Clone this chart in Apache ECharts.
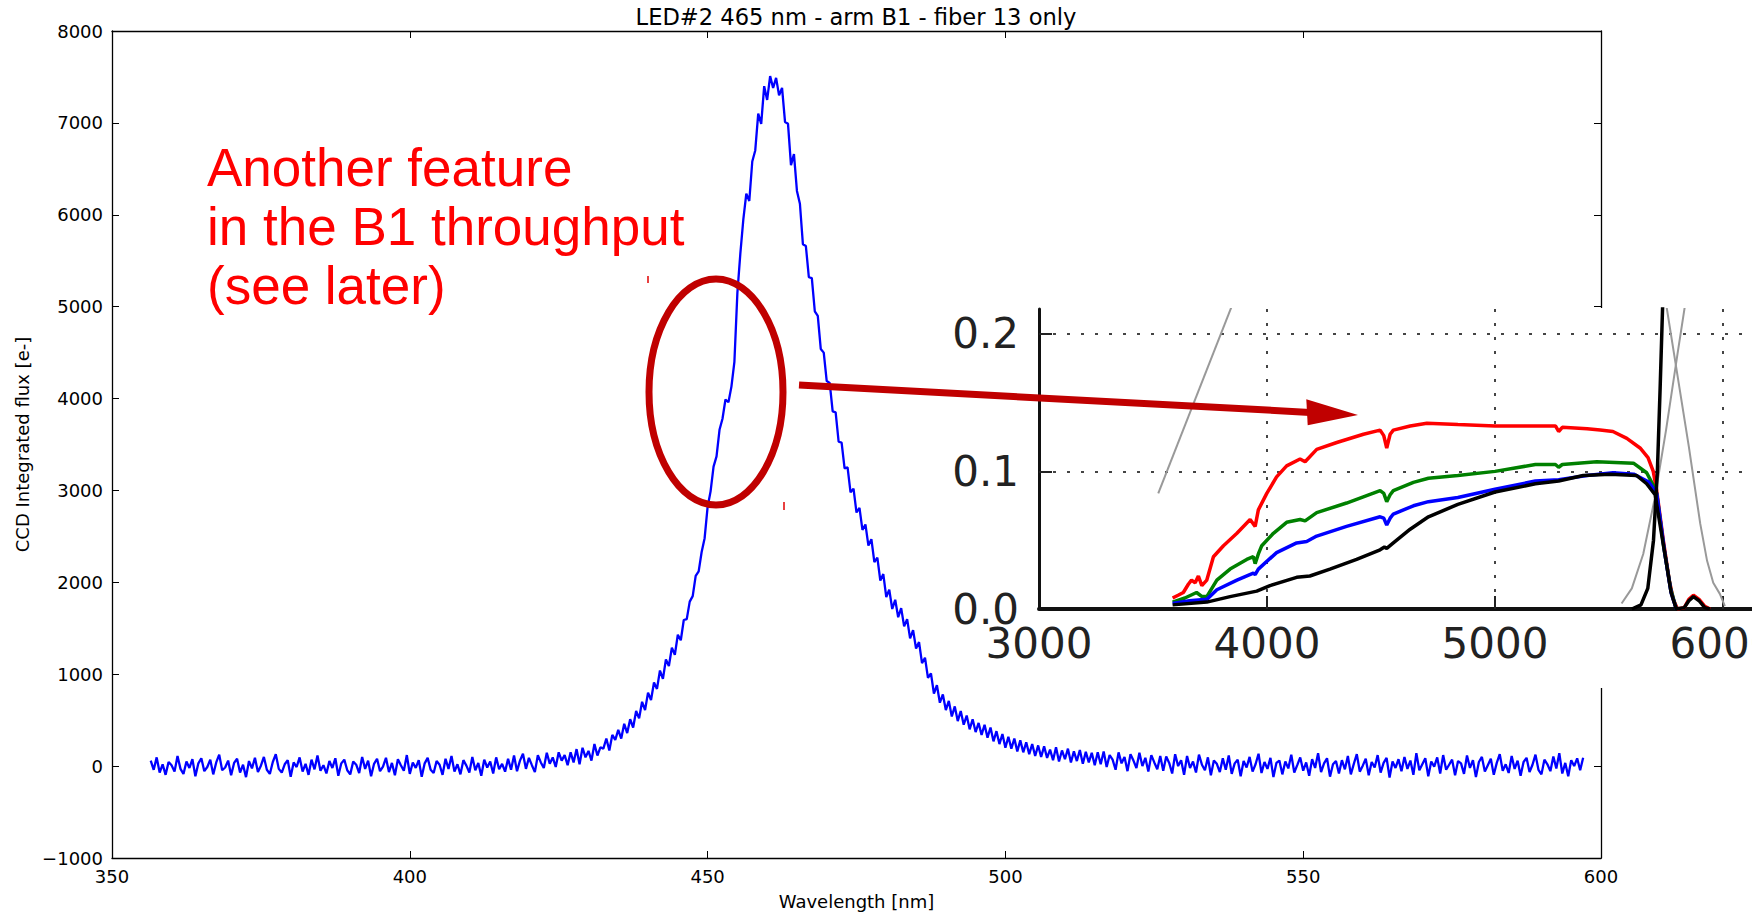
<!DOCTYPE html>
<html>
<head>
<meta charset="utf-8">
<title>LED#2 465 nm - arm B1 - fiber 13 only</title>
<script src="https://cdn.jsdelivr.net/npm/echarts@6.0.0/dist/echarts.min.js"></script>
<style>
  html, body { margin: 0; padding: 0; background: #fff; }
  #main { width: 1752px; height: 913px; }
</style>
</head>
<body>
<div id="main"></div>
<script>
// LED spectrum, one reading every 0.5 nm from 356.5 nm
const waveStart = 356.5
const waveStep = 0.5
const flux = [
  60, -40, 95, -70, 20, -95, 45, 10, -60, 110, -30, -85, 50, -20, 75, -110, 30, 85, -55, -10,
  70, -90, 40, 125, -45, -15, 60, -100, 35, 80, -70, 15, -120, 55, -25, 90, -65, 5, 100, -40,
  -85, 45, 130, -30, -70, 20, 65, -115, 40, -10, 95, -60, 25, -95, 70, -35, 115, -50, 10, -80,
  55, -20, 85, -105, 30, 70, -45, -90, 50, 15, -75, 100, -30, 60, -110, 25, 80, -55, -5, 90,
  -65, 35, -100, 75, 10, -50, 120, -85, 40, -20, 65, -115, 30, 90, -40, -75, 55, 15, -95, 80,
  -30, 110, -60, 20, -90, 65, 5, -70, 100, -45, 35, -105, 70, -15, 50, -80, 95, -35, 25, -60,
  80, -40, 115, -55, 60, 135, -30, 90, 10, -65, 120, 40, -20, 145, 25, 95, -10, 150, 60, 120,
  10, 150, 40, 185, 20, 200, 95, 165, 60, 240, 115, 205, 190, 300, 170, 340, 285, 395, 300, 460,
  360, 510, 420, 600, 520, 700, 610, 800, 720, 910, 840, 1040, 950, 1160, 1090, 1290, 1210, 1430, 1370, 1590,
  1600, 1790, 1850, 2070, 2120, 2330, 2480, 2820, 2990, 3260, 3370, 3660, 3780, 3990, 3960, 4130, 4400, 5150, 5580, 5950,
  6230, 6150, 6580, 6700, 7100, 6990, 7400, 7250, 7510, 7380, 7490, 7300, 7380, 7010, 6990, 6540, 6660, 6260, 6120, 5680,
  5660, 5320, 5310, 4950, 4900, 4540, 4500, 4190, 4170, 3860, 3850, 3530, 3520, 3240, 3250, 2980, 3020, 2760, 2810, 2570,
  2630, 2400, 2470, 2220, 2270, 2020, 2090, 1840, 1920, 1710, 1810, 1620, 1720, 1520, 1600, 1390, 1480, 1280, 1350, 1120,
  1180, 960, 1010, 790, 880, 690, 780, 610, 710, 540, 650, 490, 600, 450, 550, 400, 510, 370, 470, 340,
  450, 310, 420, 270, 380, 240, 350, 200, 320, 190, 300, 160, 280, 150, 260, 130, 240, 110, 225, 100,
  215, 90, 180, 65, 205, 50, 170, 75, 190, 40, 160, 55, 175, 25, 155, 40, 145, 10, 150, 20,
  160, -10, 120, 70, -40, 150, 30, 100, -55, 130, 60, -20, 145, 0, 90, -60, 120, 40, -35, 110,
  -50, 105, 35, -80, 130, 0, 65, -95, 110, -20, 50, -70, 125, 15, -45, 95, -100, 60, 25, -65,
  85, -40, 115, -85, 30, 70, -110, 55, -15, 100, -60, 20, 135, -75, 45, -30, 90, -120, 35, 60,
  -90, 50, -25, 125, -70, 10, 95, -50, 40, -105, 75, -20, 140, -65, 30, 85, -115, 20, 55, -80,
  65, -35, 110, -90, 25, 130, -60, 5, 80, -100, 45, -15, 120, -70, 35, 90, -125, 50, -20, 75,
  -55, 100, -30, 60, -95, 140, -45, 20, 85, -110, 50, -5, 95, -80, 120, -40, 15, 70, -100, 55,
  30, -85, 115, -20, 65, -120, 45, 100, -60, 10, 80, -95, 35, 130, -50, 20, -75, 110, -30, 60,
  -105, 45, 90, -65, 15, 125, -40, -90, 70, 20, -55, 105, -25, 140, -80, 35, -110, 65, 0, 85,
  -45, 90
]

// inset (pasted throughput plot): [wavelength A, throughput]
const redThru = [[3586,0.008],[3610,0.010],[3633,0.012],[3655,0.018],[3669,0.021],[3685,0.019],[3699,0.024],[3714,0.017],
  [3736,0.021],[3765,0.038],[3809,0.046],[3868,0.055],[3926,0.065],[3948,0.060],[3962,0.072],[3999,0.084],[4042,0.096],
  [4086,0.104],[4145,0.109],[4167,0.107],[4218,0.116],[4306,0.121],[4423,0.127],[4496,0.130],[4512,0.126],[4525,0.117],
  [4540,0.127],[4554,0.130],[4628,0.133],[4701,0.135],[4837,0.134],[5000,0.133],[5177,0.133],[5265,0.133],[5279,0.129],
  [5295,0.132],[5404,0.131],[5461,0.130],[5517,0.129],[5578,0.124],[5636,0.117],[5671,0.110],[5694,0.100],[5709,0.086],
  [5738,0.050],[5765,0.020],[5782,0.007],[5800,0],[5830,0.001],[5850,0.007],[5870,0.010],[5895,0.007],[5920,0.002],[5943,0]]
const greenThru = [[3586,0.005],[3640,0.008],[3691,0.012],[3715,0.009],[3736,0.009],[3780,0.021],[3838,0.029],[3911,0.036],
  [3940,0.038],[3948,0.033],[3962,0.040],[3977,0.046],[4028,0.055],[4086,0.063],[4145,0.065],[4167,0.064],[4218,0.070],
  [4349,0.077],[4496,0.086],[4512,0.084],[4525,0.078],[4540,0.083],[4554,0.086],[4642,0.092],[4708,0.095],[4837,0.097],
  [5000,0.100],[5177,0.105],[5265,0.105],[5279,0.103],[5295,0.105],[5446,0.107],[5607,0.106],[5665,0.099],[5700,0.088],
  [5709,0.084],[5740,0.045],[5770,0.015],[5795,0]]
const blueThru = [[3586,0.004],[3660,0.006],[3736,0.007],[3780,0.014],[3868,0.021],[3940,0.026],[3948,0.025],[3962,0.029],
  [4042,0.041],[4130,0.048],[4174,0.049],[4218,0.053],[4349,0.060],[4496,0.067],[4512,0.066],[4525,0.061],[4540,0.066],
  [4554,0.069],[4642,0.075],[4708,0.078],[4837,0.081],[5000,0.087],[5177,0.093],[5279,0.094],[5404,0.097],[5517,0.099],
  [5608,0.098],[5676,0.092],[5709,0.084],[5745,0.040],[5772,0.012],[5795,0]]
const blackThru = [[3586,0.003],[3736,0.005],[3838,0.009],[3955,0.013],[4013,0.017],[4130,0.023],[4188,0.024],[4276,0.029],
  [4393,0.036],[4496,0.043],[4515,0.045],[4525,0.044],[4554,0.048],[4628,0.058],[4708,0.067],[4837,0.076],[5000,0.085],
  [5177,0.091],[5279,0.093],[5387,0.097],[5505,0.098],[5621,0.097],[5665,0.091],[5702,0.083],[5745,0.040],[5772,0.012],
  [5795,0],[5830,0.001],[5850,0.006],[5870,0.009],[5895,0.006],[5920,0.001],[5943,0]]
const blackSpike = [[5600,0],[5640,0.003],[5670,0.015],[5695,0.050],[5712,0.100],[5724,0.160],[5735,0.220],[5740,0.250]]
const grayLeft = [[3523,0.084],[3850,0.222]]
const grayRise = [[5555,0.004],[5600,0.015],[5650,0.040],[5700,0.080],[5750,0.130],[5800,0.185],[5840,0.228]]
const grayFall = [[5750,0.222],[5800,0.170],[5850,0.118],[5900,0.062],[5930,0.035],[5957,0.019],[5986,0.011],[6008,0.002]]

// tick labels
const insetWaveTicks = [3000, 4000, 5000, 6000]
const insetThruTicks = [0, 0.1, 0.2]

const fontMain = 'DejaVu Sans'
const darkRed = '#c00000'
const noteFont = '53px "Liberation Sans"'

const spectrum = flux.map((v, i) => [waveStart + i * waveStep, v])

let myChart = echarts.init(document.getElementById('main'), null, { renderer: 'svg' })

function insetLine(data, color, width, z) {
  return {
    type: 'line', xAxisIndex: 2, yAxisIndex: 2, data: data,
    showSymbol: false, symbol: 'none', clip: true, z: z || 8,
    lineStyle: { color: color, width: width }
  }
}

const mainLine = { show: true, onZero: false, lineStyle: { color: '#000', width: 1.3 } }
const mainTick = { show: true, inside: true, length: 7, lineStyle: { color: '#000', width: 1 } }
const insetGrid = { show: true, showMinLine: false, showMaxLine: false, lineStyle: { color: '#444', width: 2, type: [3, 11] } }

let option = {
  animation: false,
  backgroundColor: '#fff',
  grid: [
    { left: 112, top: 31, right: 151, bottom: 55, outerBoundsMode: 'none' },
    { left: 1039, top: 309, width: 713, height: 300, outerBoundsMode: 'none' }
  ],
  xAxis: [
    {
      gridIndex: 0, type: 'value', min: 350, max: 600, interval: 50, position: 'bottom',
      axisLine: mainLine, axisTick: mainTick,
      axisLabel: { color: '#000', fontSize: 18, fontFamily: fontMain, margin: 9 },
      splitLine: { show: false },
      name: 'Wavelength [nm]', nameLocation: 'middle', nameGap: 43,
      nameTextStyle: { color: '#000', fontSize: 18, fontFamily: fontMain, verticalAlign: 'middle' }
    },
    {
      gridIndex: 0, type: 'value', min: 350, max: 600, interval: 50, position: 'top',
      axisLine: mainLine, axisTick: mainTick, axisLabel: { show: false }, splitLine: { show: false }
    },
    {
      gridIndex: 1, type: 'value', min: 3000, max: 6127, interval: 1000, position: 'bottom', z: 6,
      axisLine: { show: true, onZero: false, lineStyle: { color: '#111', width: 4 } },
      axisTick: { show: false },
      axisLabel: { customValues: insetWaveTicks, color: '#222', fontSize: 42, fontFamily: fontMain, margin: 13,
        formatter: v => String(v) },
      splitLine: insetGrid
    },
    {
      // inset ticks only
      gridIndex: 1, type: 'value', min: 3000, max: 6127, position: 'bottom', z: 6,
      axisLine: { show: false },
      axisTick: { show: true, inside: true, length: 13, customValues: [4000, 5000, 6000], lineStyle: { color: '#222', width: 2 } },
      axisLabel: { show: false }, splitLine: { show: false }
    }
  ],
  yAxis: [
    {
      gridIndex: 0, type: 'value', min: -1000, max: 8000, interval: 1000, position: 'left',
      axisLine: mainLine, axisTick: mainTick,
      axisLabel: { color: '#000', fontSize: 18, fontFamily: fontMain, margin: 9,
        formatter: v => String(v).replace('-', '\u2212') },
      splitLine: { show: false },
      name: 'CCD Integrated flux [e-]', nameLocation: 'middle', nameGap: 90,
      nameTextStyle: { color: '#000', fontSize: 18, fontFamily: fontMain, verticalAlign: 'middle' }
    },
    {
      gridIndex: 0, type: 'value', min: -1000, max: 8000, interval: 1000, position: 'right',
      axisLine: mainLine, axisTick: mainTick, axisLabel: { show: false }, splitLine: { show: false }
    },
    {
      gridIndex: 1, type: 'value', min: 0, max: 0.218, interval: 0.1, position: 'left', z: 6,
      axisLine: { show: true, onZero: false, lineStyle: { color: '#111', width: 3 } },
      axisTick: { show: false },
      axisLabel: { customValues: insetThruTicks, color: '#222', fontSize: 42, fontFamily: fontMain, margin: 20,
        formatter: v => v.toFixed(1) },
      splitLine: insetGrid
    },
    {
      gridIndex: 1, type: 'value', min: 0, max: 0.218, position: 'left', z: 6,
      axisLine: { show: false },
      axisTick: { show: true, inside: true, length: 13, customValues: [0.1, 0.2], lineStyle: { color: '#222', width: 2 } },
      axisLabel: { show: false }, splitLine: { show: false }
    }
  ],
  series: [
    {
      name: 'flux', type: 'line', xAxisIndex: 0, yAxisIndex: 0, data: spectrum,
      showSymbol: false, symbol: 'none', clip: true, z: 2,
      lineStyle: { color: '#0000ff', width: 2.3 }
    },
    insetLine(grayLeft, '#999', 2, 7),
    insetLine(grayRise, '#999', 2, 7),
    insetLine(grayFall, '#999', 2, 7),
    insetLine(redThru, '#ff0000', 3.5),
    insetLine(greenThru, '#008000', 3.5),
    insetLine(blueThru, '#0000ff', 3.5),
    insetLine(blackThru, '#000', 3.5),
    insetLine(blackSpike, '#000', 3.5)
  ],
  graphic: [
    // title
    { type: 'text', x: 856, y: 17, z: 20,
      style: { text: 'LED#2 465 nm - arm B1 - fiber 13 only', font: '22.6px "DejaVu Sans"', fill: '#000',
        align: 'center', verticalAlign: 'middle', textAlign: 'center', textVerticalAlign: 'middle' } },
    // white patch of the pasted inset
    { type: 'rect', shape: { x: 945, y: 308, width: 807, height: 380 }, z: 5,
      style: { fill: '#fff' } },
    // red note
    { type: 'text', x: 207, y: 167, z: 20,
      style: { text: 'Another feature', font: noteFont, fill: '#ff0000', verticalAlign: 'middle', textVerticalAlign: 'middle' } },
    { type: 'text', x: 207, y: 226, z: 20,
      style: { text: 'in the B1 throughput', font: noteFont, fill: '#ff0000', verticalAlign: 'middle', textVerticalAlign: 'middle' } },
    { type: 'text', x: 207, y: 285, z: 20,
      style: { text: '(see later)', font: noteFont, fill: '#ff0000', verticalAlign: 'middle', textVerticalAlign: 'middle' } },
    // ellipse round the kink
    { type: 'ellipse', shape: { cx: 716, cy: 392, rx: 67, ry: 113 }, z: 20,
      style: { fill: 'none', stroke: darkRed, lineWidth: 7 } },
    // arrow to the inset
    { type: 'line', shape: { x1: 799, y1: 385, x2: 1310, y2: 412.4 }, z: 20,
      style: { stroke: darkRed, lineWidth: 7 } },
    { type: 'polygon', shape: { points: [[1306.3, 399.3], [1358, 415], [1307.7, 425.3]] }, z: 20,
      style: { fill: darkRed } },
    // two tiny red marks left over from the drawing
    { type: 'line', shape: { x1: 648, y1: 276, x2: 648, y2: 283 }, z: 20, style: { stroke: '#e00000', lineWidth: 1.5 } },
    { type: 'line', shape: { x1: 784, y1: 502, x2: 784, y2: 510 }, z: 20, style: { stroke: '#e00000', lineWidth: 1.5 } }
  ]
}

myChart.setOption(option)
</script>
</body>
</html>
